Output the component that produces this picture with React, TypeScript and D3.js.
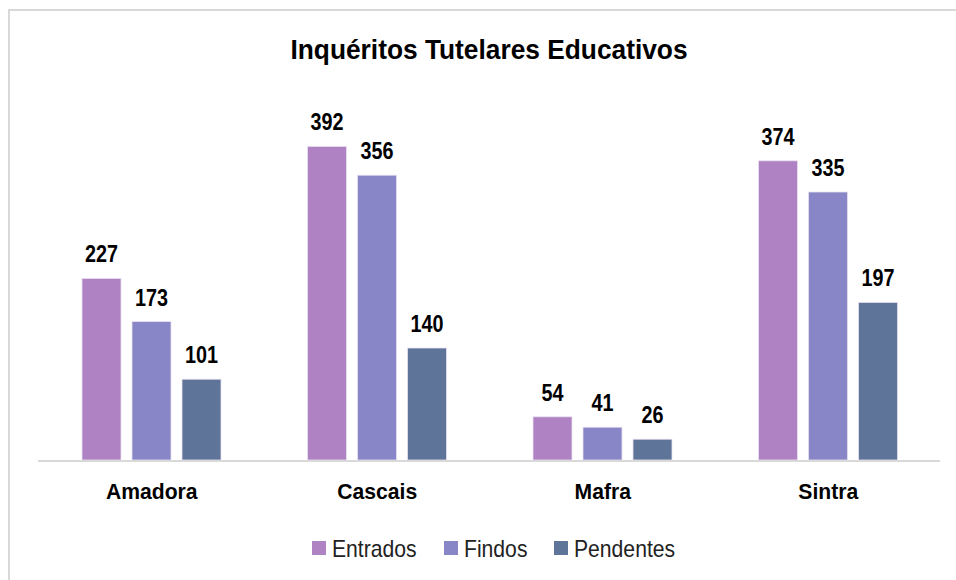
import React, { useRef, useEffect } from "react";
import * as d3 from "d3";

const categories = ["Amadora", "Cascais", "Mafra", "Sintra"];
const seriesNames = ["Entrados", "Findos", "Pendentes"];
const entrados = [227, 392, 54, 374];
const findos = [173, 356, 41, 335];
const pendentes = [101, 140, 26, 197];
const colors = ["#af83c3", "#8886c6", "#5f7499"];

const W = 956;
const H = 580;
const FONT = "'Liberation Sans', Arial, sans-serif";

const App = () => {
  const ref = useRef<SVGSVGElement>(null);

  useEffect(() => {
    const svg = d3.select(ref.current);
    svg.selectAll("*").remove();

    const values = [entrados, findos, pendentes];

    // frame
    svg
      .append("rect")
      .attr("x", 9)
      .attr("y", 10)
      .attr("width", W)
      .attr("height", H)
      .attr("fill", "#fff")
      .attr("stroke", "#d9d9d9")
      .attr("stroke-width", 2);

    const x0 = d3.scaleBand().domain(categories).range([38, 940]).paddingInner(0).paddingOuter(0);
    const x1 = d3
      .scaleBand()
      .domain(seriesNames)
      .range([44, 183])
      .paddingInner(0.22)
      .paddingOuter(0);
    const y = d3.scaleLinear().domain([0, 450]).range([460, 100]);

    // condensed look: squeeze text horizontally
    svg
      .append("text")
      .attr("transform", "translate(489,59) scale(0.94,1)")
      .attr("text-anchor", "middle")
      .attr("font-family", FONT)
      .attr("font-weight", "bold")
      .attr("font-size", 28)
      .text("Inquéritos Tutelares Educativos");

    const groups = svg
      .selectAll("g.cat")
      .data(categories)
      .join("g")
      .attr("class", "cat")
      .attr("transform", (c) => `translate(${x0(c)},0)`);

    seriesNames.forEach((s, si) => {
      groups
        .append("rect")
        .attr("x", x1(s)!)
        .attr("y", (_, i) => y(values[si][i]))
        .attr("width", x1.bandwidth())
        .attr("height", (_, i) => y(0) - y(values[si][i]))
        .attr("fill", colors[si])
        .attr("stroke", "#e8e0f0")
        .attr("stroke-width", 0.8);

      groups
        .append("text")
        .attr(
          "transform",
          (_, i) =>
            `translate(${x1(s)! + x1.bandwidth() / 2},${y(values[si][i]) - 16}) scale(0.86,1)`
        )
        .attr("text-anchor", "middle")
        .attr("font-family", FONT)
        .attr("font-weight", "bold")
        .attr("font-size", 23)
        .attr("fill", "#000")
        .text((_, i) => values[si][i]);
    });

    svg
      .append("line")
      .attr("x1", 38)
      .attr("x2", 940)
      .attr("y1", 461)
      .attr("y2", 461)
      .attr("stroke", "#d9d9d9")
      .attr("stroke-width", 2);

    groups
      .append("text")
      .attr("transform", `translate(${x0.bandwidth() / 2 + 1},499) scale(0.96,1)`)
      .attr("text-anchor", "middle")
      .attr("font-family", FONT)
      .attr("font-weight", "bold")
      .attr("font-size", 22)
      .text((c) => c);

    const legendX = [312, 444, 554];
    const legend = svg
      .selectAll("g.leg")
      .data(seriesNames)
      .join("g")
      .attr("class", "leg")
      .attr("transform", (_, i) => `translate(${legendX[i]},0)`);
    legend
      .append("rect")
      .attr("x", 0)
      .attr("y", 541)
      .attr("width", 14)
      .attr("height", 14)
      .attr("fill", (_, i) => colors[i]);
    legend
      .append("text")
      .attr("transform", "translate(20,556.5) scale(0.92,1)")
      .attr("font-family", FONT)
      .attr("font-size", 23)
      .attr("fill", "#222")
      .text((d) => d);
  }, []);

  return (
    <svg
      ref={ref}
      width={W}
      height={H}
      style={{ position: "absolute", left: 0, top: 0 }}
    />
  );
};

export default App;
